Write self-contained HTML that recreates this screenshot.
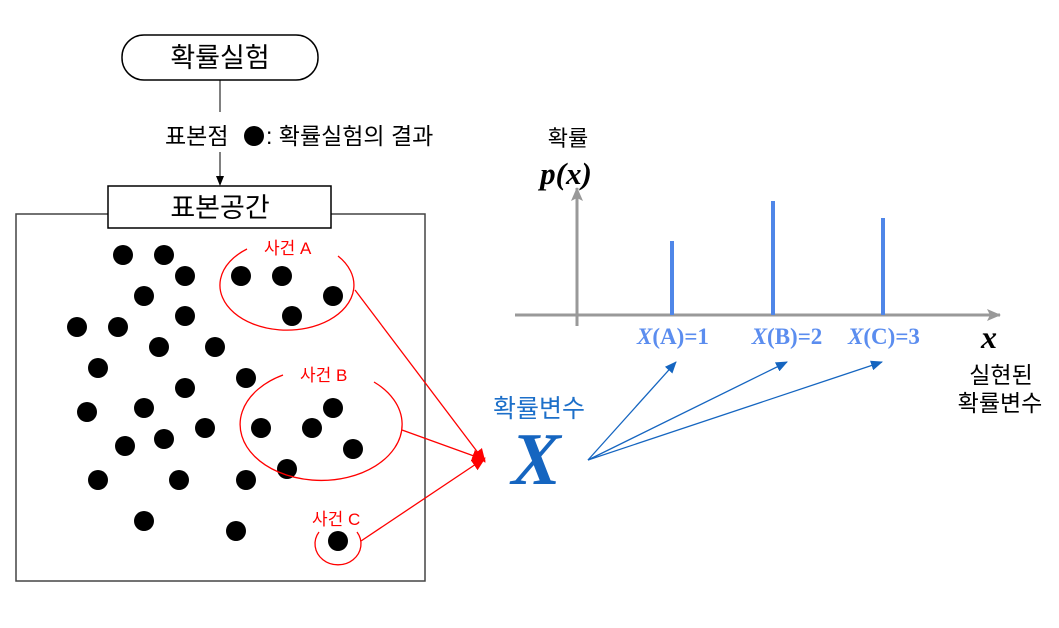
<!DOCTYPE html>
<html><head><meta charset="utf-8"><style>body{margin:0;background:#fff}svg{display:block}</style></head><body>
<svg width="1059" height="628" viewBox="0 0 1059 628" xmlns="http://www.w3.org/2000/svg">
<defs>
<marker id="ak" markerWidth="10" markerHeight="10" refX="9" refY="5" orient="auto" markerUnits="userSpaceOnUse"><path d="M0,1 L10,5 L0,9 z" fill="#000"/></marker>
<marker id="ar" markerWidth="14" markerHeight="14" refX="13" refY="7" orient="auto" markerUnits="userSpaceOnUse"><path d="M0,1 L14,7 L0,13 z" fill="#f00"/></marker>
<marker id="ab" markerWidth="12" markerHeight="10" refX="11" refY="5" orient="auto" markerUnits="userSpaceOnUse"><path d="M0,0 L12,5 L0,10 z" fill="#1565c0"/></marker>
<marker id="ag" markerWidth="14" markerHeight="14" refX="13" refY="7" orient="auto" markerUnits="userSpaceOnUse"><path d="M0,1 L14,7 L0,13 L3,7 z" fill="#999"/></marker>
</defs>
<g font-family="'Liberation Sans','Noto Sans CJK KR',sans-serif">
<rect x="122" y="35" width="196" height="45" rx="22" fill="#fff" stroke="#000" stroke-width="1.5"/>
<text x="220" y="67" font-size="27" text-anchor="middle">확률실험</text>
<line x1="220" y1="80" x2="220" y2="112" stroke="#000"/>
<text x="165" y="144" font-size="23">표본점</text>
<circle cx="254" cy="136" r="10"/>
<text x="266" y="144" font-size="23">: 확률실험의 결과</text>
<line x1="220" y1="152" x2="220" y2="185" stroke="#000" marker-end="url(#ak)"/>
<rect x="16" y="214" width="409" height="367" fill="none" stroke="#444" stroke-width="1.5"/>
<rect x="108" y="186" width="223" height="42" fill="#fff" stroke="#000" stroke-width="1.5"/>
<text x="220" y="217" font-size="27" text-anchor="middle">표본공간</text>
<g fill="#000">
<circle cx="123" cy="255" r="10"/><circle cx="164" cy="255" r="10"/><circle cx="185" cy="276" r="10"/><circle cx="144" cy="296" r="10"/><circle cx="185" cy="316" r="10"/><circle cx="77" cy="327" r="10"/><circle cx="118" cy="327" r="10"/><circle cx="159" cy="347" r="10"/><circle cx="215" cy="347" r="10"/><circle cx="98" cy="368" r="10"/><circle cx="185" cy="388" r="10"/><circle cx="246" cy="378" r="10"/><circle cx="87" cy="412" r="10"/><circle cx="144" cy="408" r="10"/><circle cx="205" cy="428" r="10"/><circle cx="164" cy="439" r="10"/><circle cx="125" cy="446" r="10"/><circle cx="98" cy="480" r="10"/><circle cx="179" cy="480" r="10"/><circle cx="246" cy="480" r="10"/><circle cx="144" cy="521" r="10"/><circle cx="236" cy="531" r="10"/>
<circle cx="241" cy="276" r="10"/><circle cx="282" cy="276" r="10"/><circle cx="333" cy="296" r="10"/><circle cx="292" cy="316" r="10"/>
<circle cx="261" cy="428" r="10"/><circle cx="312" cy="428" r="10"/><circle cx="333" cy="408" r="10"/><circle cx="353" cy="449" r="10"/><circle cx="287" cy="469" r="10"/>
<circle cx="338" cy="541" r="10"/>
</g>
<g fill="none" stroke="#f00" stroke-width="1.3">
<path d="M247,249 A67,45 0 1 0 338,256"/>
<path d="M283,375 A81,56 0 1 0 374,382"/>
<path d="M319,532 A23,21 0 1 0 357,532"/>
</g>
<g fill="#f00" font-size="17">
<text x="264" y="254">사건 A</text>
<text x="300" y="381">사건 B</text>
<text x="312" y="525">사건 C</text>
</g>
<g stroke="#f00" stroke-width="1.3">
<line x1="355" y1="290" x2="485" y2="462" marker-end="url(#ar)"/>
<line x1="402" y1="430" x2="485" y2="460" marker-end="url(#ar)"/>
<line x1="361" y1="541" x2="485" y2="458" marker-end="url(#ar)"/>
</g>
<text x="539" y="417" font-size="25" fill="#1c6fc9" text-anchor="middle">확률변수</text>
<text x="536" y="484" font-size="74" font-weight="bold" font-style="italic" font-family="'Liberation Serif',serif" fill="#1565c0" text-anchor="middle">X</text>
<g stroke="#1565c0" stroke-width="1.3">
<line x1="588" y1="460" x2="676" y2="362" marker-end="url(#ab)"/>
<line x1="588" y1="460" x2="787" y2="362" marker-end="url(#ab)"/>
<line x1="588" y1="460" x2="882" y2="362" marker-end="url(#ab)"/>
</g>
<line x1="515" y1="315" x2="1000" y2="315" stroke="#999" stroke-width="3" marker-end="url(#ag)"/>
<line x1="577" y1="326" x2="577" y2="188" stroke="#999" stroke-width="3" marker-end="url(#ag)"/>
<g stroke="#4f86e8" stroke-width="4">
<line x1="672" y1="241" x2="672" y2="315"/>
<line x1="773" y1="201" x2="773" y2="315"/>
<line x1="883" y1="218" x2="883" y2="315"/>
</g>
<g font-family="'Liberation Serif',serif" font-size="23" font-weight="bold" fill="#5b8def" text-anchor="middle">
<text x="673" y="344"><tspan font-style="italic">X</tspan>(A)=1</text>
<text x="787" y="344"><tspan font-style="italic">X</tspan>(B)=2</text>
<text x="884" y="344"><tspan font-style="italic">X</tspan>(C)=3</text>
</g>
<text x="989" y="348" font-family="'Liberation Serif',serif" font-size="32" font-weight="bold" font-style="italic" text-anchor="middle">x</text>
<text x="1001" y="383" font-size="23" text-anchor="middle">실현된</text>
<text x="1000" y="411" font-size="23" text-anchor="middle">확률변수</text>
<text x="568" y="146" font-size="22" text-anchor="middle">확률</text>
<text x="566" y="184" font-family="'Liberation Serif',serif" font-size="31" font-weight="bold" font-style="italic" text-anchor="middle">p(x)</text>
</g>
</svg>
</body></html>
